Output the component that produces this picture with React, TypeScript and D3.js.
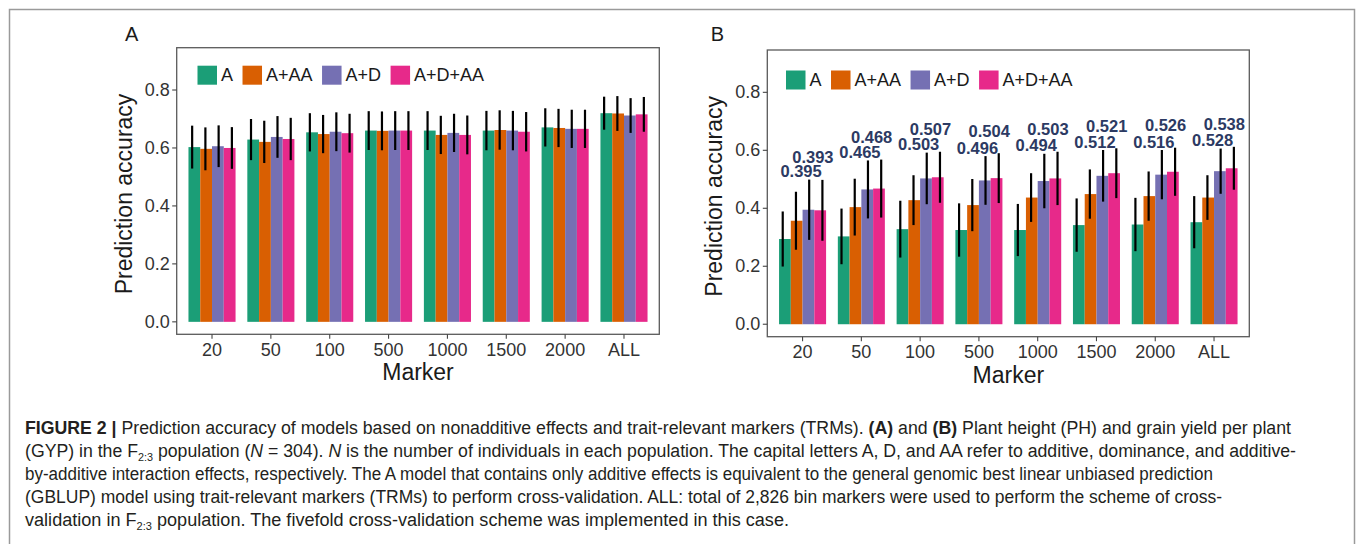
import React, { useEffect, useRef } from 'react';
import * as d3 from 'd3';

// categories and series
const markers = ['20', '50', '100', '500', '1000', '1500', '2000', 'ALL'];
const models = ['A', 'A+AA', 'A+D', 'A+D+AA'];
const modelColors = ['#1B9E77', '#D95F02', '#7570B3', '#E7298A'];
const yTicks = [0, 0.2, 0.4, 0.6, 0.8];

// (A) plant height, mean accuracy and sd per model
const phA = [0.603, 0.629, 0.654, 0.660, 0.660, 0.660, 0.671, 0.720];
const phAA = [0.597, 0.621, 0.648, 0.659, 0.645, 0.662, 0.669, 0.719];
const phD = [0.606, 0.638, 0.656, 0.660, 0.652, 0.660, 0.666, 0.712];
const phDAA = [0.600, 0.631, 0.651, 0.660, 0.645, 0.656, 0.666, 0.716];
const phA_sd = [0.074, 0.071, 0.066, 0.067, 0.067, 0.068, 0.066, 0.057];
const phAA_sd = [0.074, 0.073, 0.066, 0.067, 0.066, 0.068, 0.066, 0.060];
const phD_sd = [0.072, 0.072, 0.067, 0.067, 0.066, 0.068, 0.066, 0.060];
const phDAA_sd = [0.072, 0.073, 0.067, 0.067, 0.067, 0.068, 0.066, 0.060];

// (B) grain yield per plant
const gypA = [0.294, 0.303, 0.328, 0.325, 0.325, 0.342, 0.344, 0.352];
const gypAA = [0.357, 0.404, 0.428, 0.411, 0.437, 0.449, 0.442, 0.437];
const gypD = [0.395, 0.465, 0.503, 0.496, 0.494, 0.512, 0.516, 0.528];
const gypDAA = [0.393, 0.468, 0.507, 0.504, 0.503, 0.521, 0.526, 0.538];
const gypA_sd = [0.095, 0.096, 0.098, 0.092, 0.090, 0.092, 0.092, 0.090];
const gypAA_sd = [0.100, 0.098, 0.086, 0.090, 0.084, 0.085, 0.085, 0.077];
const gypD_sd = [0.104, 0.100, 0.089, 0.084, 0.094, 0.089, 0.085, 0.078];
const gypDAA_sd = [0.105, 0.100, 0.088, 0.086, 0.092, 0.086, 0.083, 0.074];
const gypLabelled = [2, 3]; // A+D and A+D+AA carry value labels

// caption, one entry per printed line
const captionLines = [
  [{ t: 'FIGURE 2 | ', b: true }, { t: 'Prediction accuracy of models based on nonadditive effects and trait-relevant markers (TRMs). ' }, { t: '(A)', b: true }, { t: ' and ' }, { t: '(B)', b: true }, { t: ' Plant height (PH) and grain yield per plant' }],
  [{ t: '(GYP) in the F' }, { t: '2:3', sub: true }, { t: ' population (' }, { t: 'N', i: true }, { t: ' = 304). ' }, { t: 'N', i: true }, { t: ' is the number of individuals in each population. The capital letters A, D, and AA refer to additive, dominance, and additive-' }],
  [{ t: 'by-additive interaction effects, respectively. The A model that contains only additive effects is equivalent to the general genomic best linear unbiased prediction' }],
  [{ t: '(GBLUP) model using trait-relevant markers (TRMs) to perform cross-validation. ALL: total of 2,826 bin markers were used to perform the scheme of cross-' }],
  [{ t: 'validation in F' }, { t: '2:3', sub: true }, { t: ' population. The fivefold cross-validation scheme was implemented in this case.' }],
];
const captionEnds = [1291, 1296, 1213, 1222, 789];

const FONT = "'Liberation Sans', Arial, sans-serif";

function drawPanel(svg: any, p: any) {
  const g = svg.append('g');
  const x = d3.scaleLinear().domain([0.4, markers.length + 0.6]).range([p.x0, p.x1]);
  const y = d3.scaleLinear().domain([-0.043, 0.946]).range([p.y1, p.y0]);
  const unit = x(1) - x(0);

  // bars
  p.means.forEach((vals: number[], m: number) => {
    g.append('g').selectAll('rect')
      .data(vals)
      .enter()
      .append('rect')
      .attr('x', (d: number, i: number) => x(i + 1 + (m - 1.5) * 0.2 - 0.1))
      .attr('width', unit * 0.2)
      .attr('y', (d: number) => y(d))
      .attr('height', (d: number) => y(0) - y(d))
      .attr('fill', modelColors[m]);
  });

  // error bars (dodged a little wider than the bars, as in the original)
  p.means.forEach((vals: number[], m: number) => {
    g.append('g').selectAll('line')
      .data(vals)
      .enter()
      .append('line')
      .attr('x1', (d: number, i: number) => x(i + 1 + (m - 1.5) * 0.225))
      .attr('x2', (d: number, i: number) => x(i + 1 + (m - 1.5) * 0.225))
      .attr('y1', (d: number, i: number) => y(d - p.sds[m][i]))
      .attr('y2', (d: number, i: number) => y(d + p.sds[m][i]))
      .attr('stroke', '#000')
      .attr('stroke-width', 2.2);
  });

  // value labels
  if (p.labelled) {
    p.labelled.forEach((m: number) => {
      g.append('g').selectAll('text')
        .data(p.means[m])
        .enter()
        .append('text')
        .text((d: number) => d.toFixed(3))
        .attr('x', (d: number, i: number) => x(i + 1 + (m - 1.5) * 0.2 - 0.125))
        .attr('y', (d: number, i: number) => y(d + p.sds[m][i]) - (m === 2 ? 2.5 : 16.5))
        .attr('text-anchor', 'middle')
        .attr('font-family', FONT)
        .attr('font-weight', 'bold')
        .attr('font-size', 16.5)
        .attr('fill', '#2C3A63');
    });
  }

  // panel box
  g.append('rect')
    .attr('x', p.x0).attr('y', p.y0)
    .attr('width', p.x1 - p.x0).attr('height', p.y1 - p.y0)
    .attr('fill', 'none').attr('stroke', '#5a5a5a').attr('stroke-width', 1.3);

  // y axis
  yTicks.forEach((t) => {
    g.append('line').attr('x1', p.x0 - 4.5).attr('x2', p.x0)
      .attr('y1', y(t)).attr('y2', y(t)).attr('stroke', '#444').attr('stroke-width', 1.1);
    g.append('text').text(t.toFixed(1))
      .attr('x', p.x0 - 7).attr('y', y(t))
      .attr('text-anchor', 'end').attr('dominant-baseline', 'central')
      .attr('font-family', FONT).attr('font-size', 18).attr('fill', '#333');
  });

  // x axis
  markers.forEach((mk, i) => {
    g.append('line').attr('x1', x(i + 1)).attr('x2', x(i + 1))
      .attr('y1', p.y1).attr('y2', p.y1 + 4.5).attr('stroke', '#444').attr('stroke-width', 1.1);
    g.append('text').text(mk)
      .attr('x', x(i + 1)).attr('y', p.y1 + 21.5)
      .attr('text-anchor', 'middle')
      .attr('font-family', FONT).attr('font-size', 18).attr('fill', '#333');
  });

  g.append('text').text('Marker')
    .attr('x', (p.x0 + p.x1) / 2).attr('y', p.y1 + 46)
    .attr('text-anchor', 'middle')
    .attr('font-family', FONT).attr('font-size', 23).attr('fill', '#1a1a1a');

  g.append('text').text('Prediction accuracy')
    .attr('transform', `translate(${p.titleX},${(p.y0 + p.y1) / 2 + 3}) rotate(-90)`)
    .attr('text-anchor', 'middle')
    .attr('font-family', FONT).attr('font-size', 23).attr('fill', '#1a1a1a');

  g.append('text').text(p.letter)
    .attr('x', p.letterX).attr('y', 40.7)
    .attr('font-family', FONT).attr('font-size', 20).attr('fill', '#1a1a1a');

  // legend, inside the top of the panel
  let cursor = p.legendX;
  models.forEach((name, m) => {
    g.append('rect').attr('x', cursor).attr('y', p.legendY)
      .attr('width', 19.5).attr('height', 19).attr('fill', modelColors[m]);
    const txt = g.append('text').text(name)
      .attr('x', cursor + 23.5).attr('y', p.legendY + 9.5)
      .attr('dominant-baseline', 'central')
      .attr('font-family', FONT).attr('font-size', 18).attr('fill', '#1a1a1a');
    const w = (txt.node() as SVGTextElement).getComputedTextLength();
    cursor += 23.5 + w + 9.5;
  });
}

export default function App() {
  const ref = useRef<SVGSVGElement>(null);

  useEffect(() => {
    const svg = d3.select(ref.current);
    svg.selectAll('*').remove();

    svg.append('rect')
      .attr('x', 9.5).attr('y', 9.5).attr('width', 1345).attr('height', 600)
      .attr('fill', 'none').attr('stroke', '#9a9a9a').attr('stroke-width', 1.5);

    drawPanel(svg, {
      x0: 176.7, x1: 659.3, y0: 47.7, y1: 334.3,
      means: [phA, phAA, phD, phDAA],
      sds: [phA_sd, phAA_sd, phD_sd, phDAA_sd],
      letter: 'A', letterX: 125, titleX: 131.5,
      legendX: 197.5, legendY: 65.7,
    });
    drawPanel(svg, {
      x0: 767.3, x1: 1249.3, y0: 50, y1: 336.7,
      means: [gypA, gypAA, gypD, gypDAA],
      sds: [gypA_sd, gypAA_sd, gypD_sd, gypDAA_sd],
      labelled: gypLabelled,
      letter: 'B', letterX: 710.7, titleX: 722,
      legendX: 786, legendY: 70.5,
    });

    // caption
    captionLines.forEach((segs, li) => {
      const startX = 25;
      const txt = svg.append('text')
        .attr('x', startX).attr('y', 434 + li * 23)
        .attr('font-family', FONT).attr('font-size', 18).attr('fill', '#231F20')
        .attr('textLength', captionEnds[li] - startX)
        .attr('lengthAdjust', 'spacingAndGlyphs');
      segs.forEach((s: any) => {
        const ts = txt.append('tspan').text(s.t);
        if (s.b) ts.attr('font-weight', 'bold');
        if (s.i) ts.attr('font-style', 'italic');
        if (s.sub) ts.attr('font-size', 11).attr('dy', 4);
        else if (s.t.startsWith(' population')) ts.attr('dy', -4);
      });
    });
  }, []);

  return (
    <svg ref={ref} width={1357} height={544}
      style={{ position: 'absolute', left: 0, top: 0, background: '#fff' }} />
  );
}
